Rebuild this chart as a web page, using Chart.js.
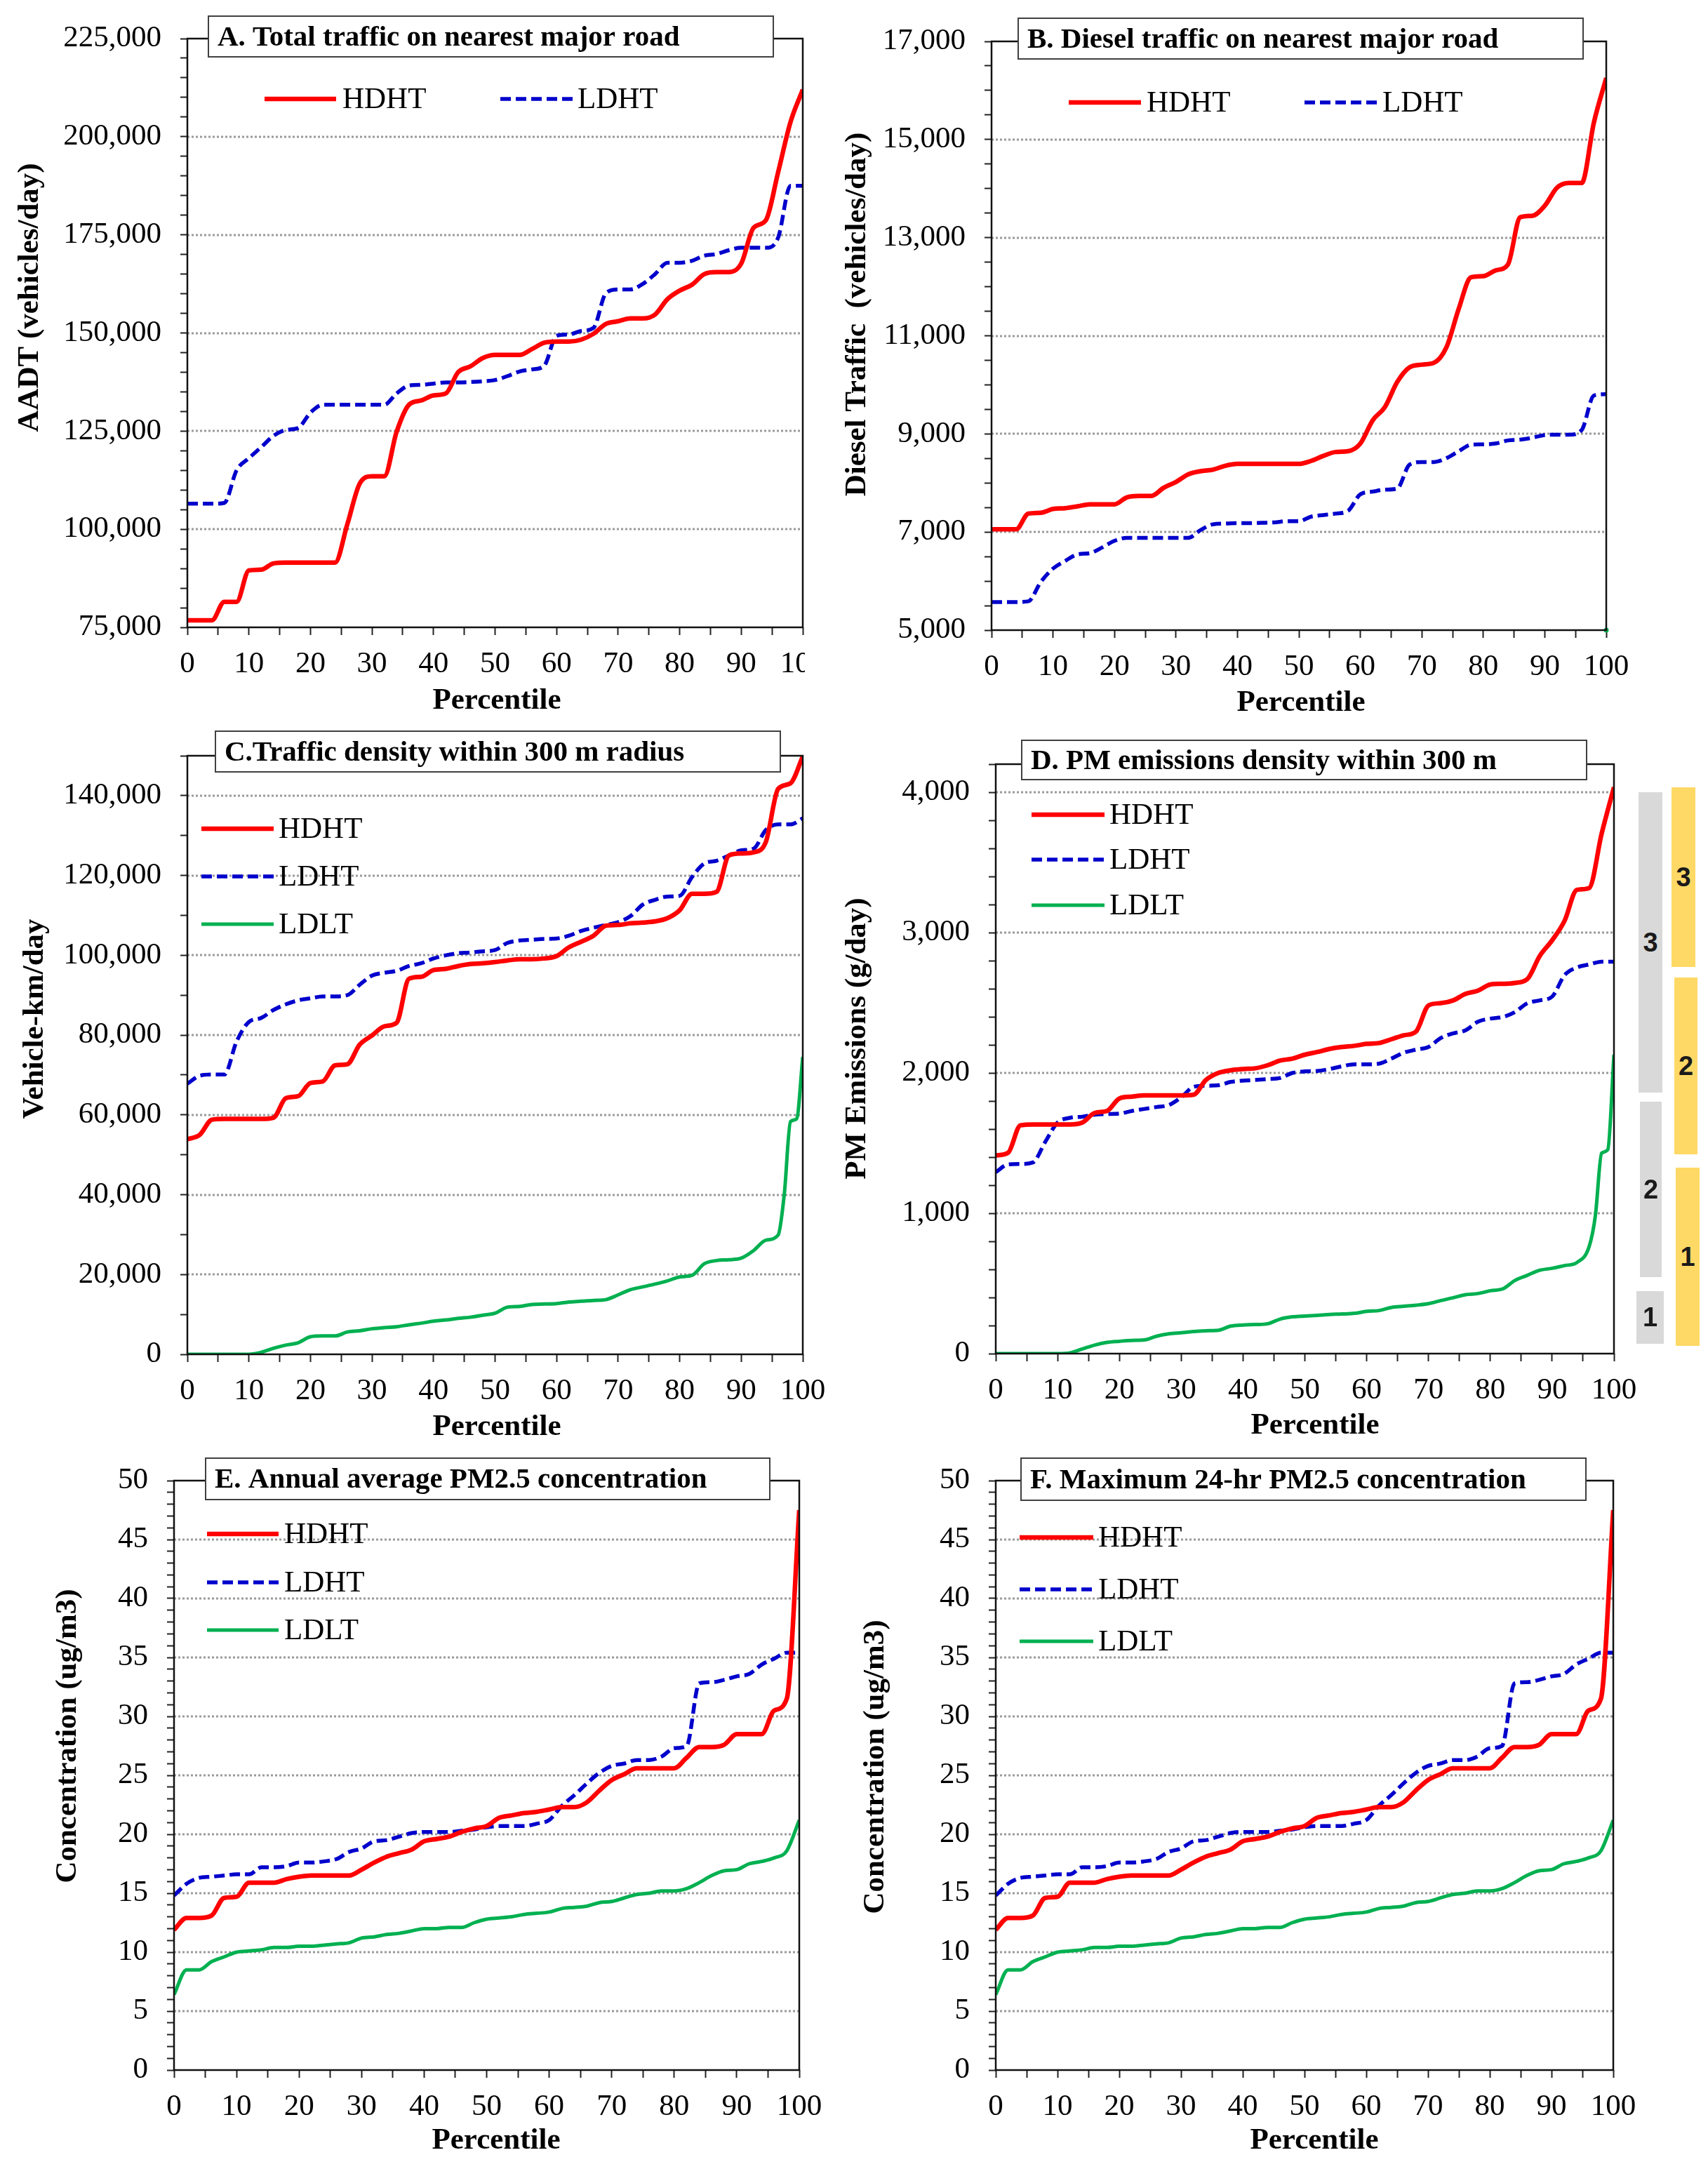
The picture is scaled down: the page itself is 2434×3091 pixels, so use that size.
<!DOCTYPE html>
<html>
<head>
<meta charset="utf-8">
<script src="https://cdn.jsdelivr.net/npm/chart.js@4/dist/chart.umd.min.js"></script>
<style>
html,body{margin:0;padding:0;background:#fff;}
#root{position:relative;width:2434px;height:3091px;overflow:hidden;background:#fff;}
.pane{position:absolute;}
.pane canvas{display:block;}
.bar{position:absolute;display:flex;align-items:center;justify-content:center;font:bold 38px "Liberation Sans",Arial,sans-serif;color:#1a1a1a;}
.gray{background:#d9d9d9;}
.gold{background:#ffd966;}
</style>
</head>
<body>
<div id="root"></div>
<script>
// ---------------- DATA ----------------
const percentiles = [0,2,4,6,8,10,12,14,16,18,20,22,24,26,28,30,32,34,36,38,40,42,44,46,48,50,52,54,56,58,60,62,64,66,68,70,72,74,76,78,80,82,84,86,88,90,92,94,96,98,100];
const percentilesTail = [0,2,4,6,8,10,12,14,16,18,20,22,24,26,28,30,32,34,36,38,40,42,44,46,48,50,52,54,56,58,60,62,64,66,68,70,72,74,76,78,80,82,84,86,88,90,92,94,96,97,98,99,100];

// A. Total traffic on nearest major road (vehicles/day)
const aHDHT = [76800,76800,76800,81500,81500,89500,89700,91300,91500,91500,
  91500,91500,91500,101300,111600,113500,113500,124800,131700,132800,
  134100,134600,140000,141500,143600,144400,144400,144400,145900,147500,
  147800,147800,148300,149800,152300,153000,153700,153700,154700,158600,
  160800,162300,165000,165500,165500,167700,176800,178700,191000,203700,212000];
const aLDHT = [106500,106500,106500,106700,115000,118100,120900,123800,125300,125800,
  129700,131700,131700,131700,131700,131700,131700,134600,136600,136800,
  137100,137400,137400,137500,137700,138000,139000,140200,140700,141700,
  149300,149600,150500,151300,160100,161100,161100,162500,165000,167900,
  167900,168400,169700,170100,171100,171700,171700,171700,174300,187500,187500];

// B. Diesel traffic on nearest major road (vehicles/day)
const bHDHT = [7055,7055,7055,7376,7392,7470,7486,7525,7565,7565,
  7565,7706,7737,7737,7902,8020,8176,8239,8270,8349,
  8388,8388,8388,8388,8388,8388,8451,8553,8631,8647,
  8804,9275,9549,10059,10357,10412,10451,10765,11549,12192,
  12216,12333,12451,13416,13447,13651,14020,14114,14114,15353,16255];
const bLDHT = [5573,5573,5573,5588,5980,6255,6412,6545,6569,6686,
  6820,6882,6882,6882,6882,6882,6882,7039,7157,7173,
  7180,7180,7188,7196,7220,7220,7314,7345,7376,7431,
  7769,7824,7863,7886,8373,8427,8427,8506,8647,8780,
  8788,8804,8867,8882,8922,8976,8984,8984,9078,9784,9808];
const bLDLTpoint = [{x:100, y:5000}];

// C. Traffic density within 300 m radius (vehicle-km/day)
const cHDHT = [53900,55000,58800,59000,59000,59000,59000,59300,64200,64700,
  68000,68400,72400,72700,77600,79900,82200,83100,94100,94600,
  96300,96600,97300,97800,98000,98300,98700,99000,99000,99200,
  99800,102000,103400,104900,107400,107600,108000,108200,108500,109300,
  111300,115400,115400,115900,125000,125500,125800,128400,141700,143100,149800];
const cLDHT = [67800,69800,70100,70100,78400,83300,84300,86300,87700,88700,
  89200,89700,89700,90000,92600,94900,95600,96100,97300,98000,
  99200,100000,100500,100700,101000,101300,103100,103700,103900,104100,
  104200,104900,106100,106900,107600,108300,109800,112700,113900,114700,
  114900,119600,123000,123700,125000,126300,126700,131400,132800,132800,134300];
const cLDLT = [0,0,0,0,0,0,500,1500,2300,2900,
  4400,4600,4600,5600,5900,6400,6700,6900,7400,7800,
  8300,8600,9000,9300,9800,10300,11800,12000,12500,12600,
  12700,13100,13300,13500,13700,14900,16200,16900,17600,18400,
  19400,19800,22700,23500,23700,24100,26000,28600,29900,40200,58300,59000,74500];

// D. PM emissions density within 300 m (g/day)
const dHDHT = [1412,1431,1627,1633,1633,1633,1633,1646,1715,1729,
  1818,1831,1840,1840,1840,1840,1845,1950,2000,2019,
  2028,2033,2055,2088,2102,2130,2149,2171,2185,2193,
  2207,2213,2240,2268,2296,2481,2497,2517,2564,2586,
  2630,2635,2641,2669,2834,2945,3083,3304,3318,3704,4036];
const dLDHT = [1293,1348,1351,1362,1508,1646,1680,1688,1702,1707,
  1710,1729,1743,1757,1771,1826,1901,1909,1912,1936,
  1945,1950,1956,1964,2000,2011,2014,2028,2047,2061,
  2061,2066,2102,2144,2166,2185,2249,2282,2304,2365,
  2387,2398,2434,2497,2517,2544,2696,2751,2773,2793,2793];
const dLDLT = [0,0,0,0,0,0,5,33,61,80,
  88,94,97,124,141,149,157,163,166,196,
  204,207,213,246,262,268,273,279,282,287,
  301,307,329,337,345,356,378,398,420,428,
  448,461,522,558,594,608,627,649,765,986,1428,1453,2130];

// E. Annual average PM2.5 concentration (ug/m3)
const eHDHT = [11.9,12.9,12.9,13.1,14.6,14.7,15.9,15.9,15.9,16.2,
  16.4,16.5,16.5,16.5,16.5,17.0,17.6,18.1,18.4,18.7,
  19.4,19.6,19.8,20.2,20.5,20.7,21.4,21.6,21.8,21.9,
  22.1,22.3,22.3,22.7,23.7,24.6,25.1,25.6,25.6,25.6,
  25.6,26.5,27.4,27.4,27.6,28.5,28.5,28.5,30.5,31.5,47.5];
const eLDHT = [14.8,15.8,16.3,16.4,16.5,16.6,16.6,17.2,17.2,17.3,
  17.6,17.6,17.7,17.9,18.5,18.8,19.4,19.5,19.8,20.1,
  20.2,20.2,20.2,20.3,20.4,20.6,20.7,20.7,20.7,20.9,
  21.2,22.4,23.3,24.3,25.2,25.8,26.0,26.3,26.3,26.6,
  27.3,27.5,32.8,32.9,33.1,33.4,33.6,34.4,34.9,35.4,35.4];
const eLDLT = [6.4,8.5,8.5,9.2,9.6,10.0,10.1,10.2,10.4,10.4,
  10.5,10.5,10.6,10.7,10.8,11.2,11.3,11.5,11.6,11.8,
  12.0,12.0,12.1,12.1,12.5,12.8,12.9,13.0,13.2,13.3,
  13.4,13.7,13.8,13.9,14.2,14.3,14.6,14.9,15.0,15.2,
  15.2,15.4,15.9,16.5,16.9,17.0,17.5,17.7,18.0,18.6,21.2];

// F. Maximum 24-hr PM2.5 concentration (ug/m3) - the figure shows the same curves as E
const fHDHT = [11.9,12.9,12.9,13.1,14.6,14.7,15.9,15.9,15.9,16.2,
  16.4,16.5,16.5,16.5,16.5,17.0,17.6,18.1,18.4,18.7,
  19.4,19.6,19.8,20.2,20.5,20.7,21.4,21.6,21.8,21.9,
  22.1,22.3,22.3,22.7,23.7,24.6,25.1,25.6,25.6,25.6,
  25.6,26.5,27.4,27.4,27.6,28.5,28.5,28.5,30.5,31.5,47.5];
const fLDHT = [14.8,15.8,16.3,16.4,16.5,16.6,16.6,17.2,17.2,17.3,
  17.6,17.6,17.7,17.9,18.5,18.8,19.4,19.5,19.8,20.1,
  20.2,20.2,20.2,20.3,20.4,20.6,20.7,20.7,20.7,20.9,
  21.2,22.4,23.3,24.3,25.2,25.8,26.0,26.3,26.3,26.6,
  27.3,27.5,32.8,32.9,33.1,33.4,33.6,34.4,34.9,35.4,35.4];
const fLDLT = [6.4,8.5,8.5,9.2,9.6,10.0,10.1,10.2,10.4,10.4,
  10.5,10.5,10.6,10.7,10.8,11.2,11.3,11.5,11.6,11.8,
  12.0,12.0,12.1,12.1,12.5,12.8,12.9,13.0,13.2,13.3,
  13.4,13.7,13.8,13.9,14.2,14.3,14.6,14.9,15.0,15.2,
  15.2,15.4,15.9,16.5,16.9,17.0,17.5,17.7,18.0,18.6,21.2];

const xTicks = {min:0, max:100, step:5, labelEvery:10};

// ---------------- STYLE ----------------
const FONT = '"Liberation Serif","Times New Roman",serif';
const RED = '#ff0000', BLUE = '#0000cc', GREEN = '#00b050';
const S = {
  HDHT: {color:RED, width:6.5, dash:[]},
  LDHT: {color:BLUE, width:5.5, dash:[15,7]},
  LDLT: {color:GREEN, width:5, dash:[]}
};
const fmt = v => Math.round(v).toLocaleString('en-US');

const root = document.getElementById('root');

function series(name, xs, ys){ return {name, data: xs.map((x,i)=>({x, y: ys[i]}))}; }

function makePanel(p){
  const wrap = document.createElement('div');
  wrap.className = 'pane';
  wrap.style.left = p.cl+'px'; wrap.style.top = p.ct+'px';
  wrap.style.width = p.cw+'px'; wrap.style.height = p.ch+'px';
  const cv = document.createElement('canvas');
  wrap.appendChild(cv); root.appendChild(wrap);
  const ox = p.cl, oy = p.ct;
  const y = p.y;
  const isMajor = v => Math.abs(((v - y.base) % y.major)) < 1e-6 && v <= y.lastLabel + 1e-6;

  const deco = {
    id: 'deco_'+p.id,
    beforeDraw(chart){
      const c = chart.ctx; c.save(); c.fillStyle = '#fff'; c.fillRect(0,0,chart.width,chart.height); c.restore();
    },
    beforeDatasetsDraw(chart){
      // dotted horizontal gridlines at the labelled ticks, placed by the y scale
      const c = chart.ctx, a = chart.chartArea, ys = chart.scales.y;
      c.save();
      c.strokeStyle = '#9a9a9a'; c.lineWidth = 3; c.setLineDash([3,3]);
      ys.ticks.forEach(t=>{
        if (!isMajor(t.value) || t.value <= y.min || t.value >= y.max) return;
        const py = Math.round(ys.getPixelForValue(t.value));
        c.beginPath(); c.moveTo(a.left, py); c.lineTo(a.right, py); c.stroke();
      });
      c.restore();
    },
    afterDraw(chart){
      const c = chart.ctx, a = chart.chartArea;
      c.save();
      c.setLineDash([]);
      c.strokeStyle = '#111'; c.lineWidth = 2.5;
      c.strokeRect(a.left, a.top, a.right-a.left, a.bottom-a.top);
      // title box
      const tb = p.titleBox;
      c.fillStyle = '#fff';
      c.fillRect(tb[0]-ox, tb[1]-oy, tb[2]-tb[0], tb[3]-tb[1]);
      c.strokeStyle = '#404040'; c.lineWidth = 2;
      c.strokeRect(tb[0]-ox, tb[1]-oy, tb[2]-tb[0], tb[3]-tb[1]);
      c.fillStyle = '#000'; c.font = 'bold 41px '+FONT;
      c.textAlign = 'left'; c.textBaseline = 'middle';
      c.fillText(p.title, tb[0]-ox+13, (tb[1]+tb[3])/2-oy+2);
      // legend
      c.font = '43px '+FONT;
      p.legend.forEach(it=>{
        const st = S[it.name];
        c.strokeStyle = st.color; c.lineWidth = st.width; c.setLineDash(st.dash); c.lineCap = 'butt';
        c.beginPath(); c.moveTo(it.x1-ox, it.y-oy); c.lineTo(it.x2-ox, it.y-oy); c.stroke();
        c.setLineDash([]);
        c.fillStyle = '#000';
        c.fillText(it.name, it.tx-ox, it.y-oy+2);
      });
      // axis titles
      c.font = 'bold 43px '+FONT; c.textAlign = 'center'; c.textBaseline = 'middle'; c.fillStyle = '#000';
      c.fillText(p.xTitle[0], p.xTitle[1]-ox, p.xTitle[2]-oy);
      c.translate(p.yTitle[1]-ox, p.yTitle[2]-oy);
      c.rotate(-Math.PI/2);
      c.fillText(p.yTitle[0], 0, 0);
      c.restore();
    }
  };

  const datasets = p.series.map(s=>({
    label: s.name, data: s.data,
    borderColor: S[s.name].color, borderWidth: S[s.name].width, borderDash: S[s.name].dash,
    pointRadius: 0, fill: false, cubicInterpolationMode: 'monotone',
    borderCapStyle: 'butt', borderJoinStyle: 'round'
  }));
  if (p.extraPoint) datasets.push({label:'LDLT', data:p.extraPoint, showLine:false, pointRadius:3.5,
    pointBackgroundColor:GREEN, pointBorderWidth:0, clip:false});

  new Chart(cv, {
    type: 'line',
    data: {datasets},
    options: {
      responsive: true, maintainAspectRatio: false, animation: false, devicePixelRatio: 1,
      layout: {padding: {top: p.T - p.ct, right: p.cl + p.cw - p.R, left: 0, bottom: 0}},
      plugins: {legend: {display:false}, tooltip: {enabled:false}, title: {display:false}},
      scales: {
        x: {
          type: 'linear', min: xTicks.min, max: xTicks.max,
          afterFit(s){ s.height = p.ct + p.ch - p.B; s.paddingLeft = 0; s.paddingRight = 0; },
          ticks: {stepSize: xTicks.step, autoSkip: false, maxRotation: 0, padding: 16, color: '#000',
            font: {family: FONT, size: 43},
            callback: v => (Math.round(v) % xTicks.labelEvery === 0 ? String(Math.round(v)) : '')},
          grid: {drawOnChartArea: false, drawTicks: true, tickLength: 11, tickColor: '#222', tickWidth: 2},
          border: {display: false}
        },
        y: {
          type: 'linear', min: y.min, max: y.max,
          afterFit(s){ s.width = p.L - p.cl; s.paddingTop = 0; s.paddingBottom = 0; },
          ticks: {stepSize: y.step, autoSkip: false, maxTicksLimit: 500, padding: 27, color: '#000',
            font: {family: FONT, size: 43},
            callback: v => (isMajor(v) ? fmt(v) : '')},
          grid: {drawOnChartArea: false, drawTicks: true, tickLength: 10, tickColor: '#222', tickWidth: 2},
          border: {display: false}
        }
      }
    },
    plugins: [deco]
  });
}

const panels = [
  {id:'A', cl:0, ct:0, cw:1160, ch:1030, L:267, T:55, R:1144, B:894,
   y:{min:75000, max:225000, step:5000, major:25000, base:75000, lastLabel:225000},
   series:[series('HDHT', percentiles, aHDHT), series('LDHT', percentiles, aLDHT)],
   title:'A. Total traffic on nearest major road', titleBox:[297,23,1102,81],
   legend:[{name:'HDHT', x1:377, x2:479, y:141, tx:488},{name:'LDHT', x1:713, x2:818, y:141, tx:823}],
   xTitle:['Percentile',708,999], yTitle:['AADT (vehicles/day)',43,424]},
  {id:'B', cl:1147, ct:0, cw:1287, ch:1030, L:1413, T:59, R:2289, B:898,
   y:{min:5000, max:17000, step:500, major:2000, base:5000, lastLabel:17000},
   series:[series('HDHT', percentiles, bHDHT), series('LDHT', percentiles, bLDHT)],
   extraPoint: bLDLTpoint,
   title:'B. Diesel traffic on nearest major road', titleBox:[1451,26,2256,84],
   legend:[{name:'HDHT', x1:1523, x2:1626, y:146, tx:1634},{name:'LDHT', x1:1859, x2:1963, y:146, tx:1970}],
   xTitle:['Percentile',1854,1002], yTitle:['Diesel Traffic  (vehicles/day)',1222,448]},
  {id:'C', cl:0, ct:1030, cw:1195, ch:1030, L:267, T:1077, R:1144, B:1930,
   y:{min:0, max:150000, step:10000, major:20000, base:0, lastLabel:140000},
   series:[series('HDHT', percentiles, cHDHT), series('LDHT', percentiles, cLDHT), series('LDLT', percentilesTail, cLDLT)],
   title:'C.Traffic density within 300 m radius', titleBox:[307,1042,1112,1100],
   legend:[{name:'HDHT', x1:287, x2:390, y:1181, tx:397},{name:'LDHT', x1:287, x2:390, y:1249, tx:397},{name:'LDLT', x1:287, x2:390, y:1317, tx:397}],
   xTitle:['Percentile',708,2034], yTitle:['Vehicle-km/day',50,1452]},
  {id:'D', cl:1195, ct:1030, cw:1239, ch:1030, L:1419, T:1089, R:2300, B:1929,
   y:{min:0, max:4200, step:200, major:1000, base:0, lastLabel:4000},
   series:[series('HDHT', percentiles, dHDHT), series('LDHT', percentiles, dLDHT), series('LDLT', percentilesTail, dLDLT)],
   title:'D. PM emissions density within 300 m', titleBox:[1456,1055,2261,1111],
   legend:[{name:'HDHT', x1:1470, x2:1574, y:1161, tx:1581},{name:'LDHT', x1:1470, x2:1574, y:1225, tx:1581},{name:'LDLT', x1:1470, x2:1574, y:1290, tx:1581}],
   xTitle:['Percentile',1874,2032], yTitle:['PM Emissions (g/day)',1222,1480]},
  {id:'E', cl:0, ct:2060, cw:1195, ch:1031, L:248, T:2110, R:1139, B:2950,
   y:{min:0, max:50, step:1, major:5, base:0, lastLabel:50},
   series:[series('HDHT', percentiles, eHDHT), series('LDHT', percentiles, eLDHT), series('LDLT', percentiles, eLDLT)],
   title:'E. Annual average PM2.5 concentration', titleBox:[293,2078,1097,2137],
   legend:[{name:'HDHT', x1:295, x2:397, y:2186, tx:405},{name:'LDHT', x1:295, x2:397, y:2255, tx:405},{name:'LDLT', x1:295, x2:397, y:2323, tx:405}],
   xTitle:['Percentile',707,3051], yTitle:['Concentration (ug/m3)',97,2474]},
  {id:'F', cl:1195, ct:2060, cw:1239, ch:1031, L:1419, T:2110, R:2299, B:2950,
   y:{min:0, max:50, step:1, major:5, base:0, lastLabel:50},
   series:[series('HDHT', percentiles, fHDHT), series('LDHT', percentiles, fLDHT), series('LDLT', percentiles, fLDLT)],
   title:'F. Maximum 24-hr PM2.5 concentration', titleBox:[1455,2078,2260,2138],
   legend:[{name:'HDHT', x1:1453, x2:1558, y:2191, tx:1565},{name:'LDHT', x1:1453, x2:1558, y:2265, tx:1565},{name:'LDLT', x1:1453, x2:1558, y:2339, tx:1565}],
   xTitle:['Percentile',1873,3051], yTitle:['Concentration (ug/m3)',1248,2518]}
];
panels.forEach(makePanel);

// side bars next to panel D
const sideBars = [
  {cls:'gray', label:'3', x:2335, y:1129, w:34, h:428},
  {cls:'gray', label:'2', x:2337, y:1570, w:31, h:250},
  {cls:'gray', label:'1', x:2332, y:1840, w:39, h:75},
  {cls:'gold', label:'3', x:2382, y:1122, w:34, h:256},
  {cls:'gold', label:'2', x:2386, y:1393, w:33, h:252},
  {cls:'gold', label:'1', x:2388, y:1664, w:34, h:254}
];
sideBars.forEach(b=>{
  const d = document.createElement('div');
  d.className = 'bar '+b.cls;
  d.style.left = b.x+'px'; d.style.top = b.y+'px'; d.style.width = b.w+'px'; d.style.height = b.h+'px';
  d.textContent = b.label;
  root.appendChild(d);
});
</script>
</body>
</html>
